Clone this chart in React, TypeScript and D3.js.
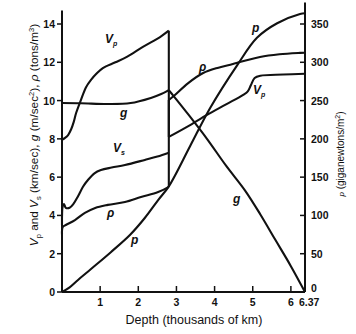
import React from "react";
import * as d3 from "d3";

// depth in thousands of km, values in chart units
const vpMantle: [number, number][] = [
  [0, 7.95], [0.08, 8.05], [0.16, 8.2], [0.24, 8.5], [0.31, 8.9], [0.37, 9.35], [0.5, 10.05],
  [0.63, 10.7], [0.76, 11.08], [0.9, 11.4], [1.07, 11.7], [1.4, 12.0], [1.7, 12.28],
  [2.12, 12.8], [2.57, 13.32], [2.8, 13.65],
];
const vpCore: [number, number][] = [
  [2.8, 8.1], [3.3, 8.65], [3.8, 9.25], [4.3, 9.8], [4.75, 10.3], [4.87, 10.48],
  [4.95, 10.8], [5.05, 11.18], [5.2, 11.3], [5.8, 11.36], [6.37, 11.4],
];
const vsMantle: [number, number][] = [
  [0, 3.5], [0.02, 4.5], [0.05, 4.6], [0.1, 4.4], [0.2, 4.4], [0.3, 4.6], [0.42, 5.0],
  [0.55, 5.5], [0.68, 5.85], [0.85, 6.2], [1.02, 6.37], [1.3, 6.5], [1.65, 6.63],
  [2.17, 6.9], [2.5, 7.08], [2.8, 7.28],
];
const rhoMantle: [number, number][] = [
  [0, 3.0], [0.02, 3.4], [0.1, 3.5], [0.34, 3.76], [0.6, 4.13], [0.87, 4.39], [1.2, 4.55],
  [1.65, 4.7], [2.07, 4.96], [2.52, 5.22], [2.8, 5.49],
];
const rhoCore: [number, number][] = [
  [2.8, 10.03], [2.96, 10.29], [3.3, 10.9], [3.7, 11.44], [4.1, 11.72], [4.48, 11.91],
  [5.19, 12.28], [5.7, 12.42], [6.24, 12.49], [6.37, 12.5],
];
const gMantle: [number, number][] = [
  [0, 9.87], [0.5, 9.86], [1.2, 9.82], [1.8, 9.87], [2.33, 10.14], [2.6, 10.34], [2.8, 10.55],
];
const gCore: [number, number][] = [
  [2.8, 10.55], [2.9, 10.3], [3.3, 9.3], [3.8, 8.0], [4.3, 6.6], [4.8, 5.3], [5.2, 4.05],
  [5.6, 2.7], [6.0, 1.35], [6.37, 0],
];
// pressure in GPa (right axis)
const pressure: [number, number][] = [
  [0, 0], [0.2, 6], [0.42, 15.7], [0.76, 30], [1.28, 52], [1.78, 74.4], [2.17, 96.6],
  [2.52, 120], [2.8, 138], [3.36, 190.7], [3.88, 240], [4.59, 296], [5.11, 332],
  [5.64, 351], [6.24, 363], [6.37, 364],
];

const depthTicks = [1, 2, 3, 4, 5, 6];
const leftTicks = [0, 2, 4, 6, 8, 10, 12, 14];
const rightTicks = [0, 50, 100, 150, 200, 250, 300, 350];
const cmbDepth = 2.8;

export default function App() {
  const x = d3.scaleLinear().domain([0, 6.37]).range([62, 305]);
  const y = d3.scaleLinear().domain([0, 14]).range([292, 24]);
  const yP = d3.scaleLinear().domain([0, 350]).range([292, 24]);

  const line = d3
    .line<[number, number]>()
    .x((d) => x(d[0]))
    .y((d) => y(d[1]))
    .curve(d3.curveCatmullRom.alpha(0.5));
  const lineP = d3
    .line<[number, number]>()
    .x((d) => x(d[0]))
    .y((d) => yP(d[1]))
    .curve(d3.curveCatmullRom.alpha(0.5));

  const stroke = "#111";
  const sw = 2.1;
  const font = "'Liberation Sans', Arial, Helvetica, sans-serif";
  const curveStyle = { fill: "none", stroke, strokeWidth: sw, strokeLinejoin: "round" as const };

  const lbl = { fontFamily: font, fontSize: 12, fontWeight: "bold" as const, fontStyle: "italic" as const, fill: stroke };
  const tickStyle = { fontFamily: font, fontSize: 10.5, fontWeight: "bold" as const, fill: stroke };

  return (
    <svg width={356} height={334} style={{ position: "absolute", left: 0, top: 0, background: "#fff" }}>
      <rect width={356} height={334} fill="#fff" />
      {/* curves */}
      <path d={line(vpMantle) || ""} {...curveStyle} />
      <path d={line(vpCore) || ""} {...curveStyle} />
      <path d={line(vsMantle) || ""} {...curveStyle} />
      <path d={line(rhoMantle) || ""} {...curveStyle} />
      <path d={line(rhoCore) || ""} {...curveStyle} />
      <path d={line(gMantle) || ""} {...curveStyle} />
      <path d={line(gCore) || ""} {...curveStyle} />
      <path d={lineP(pressure) || ""} {...curveStyle} />
      {/* core-mantle boundary jumps */}
      <line x1={x(cmbDepth)} x2={x(cmbDepth)} y1={y(vpMantle[vpMantle.length - 1][1])} y2={y(vpCore[0][1])} stroke={stroke} strokeWidth={sw} />
      <line x1={x(cmbDepth)} x2={x(cmbDepth)} y1={y(rhoMantle[rhoMantle.length - 1][1])} y2={y(rhoCore[0][1])} stroke={stroke} strokeWidth={sw} />

      {/* axes */}
      <line x1={x(0)} x2={x(0)} y1={y(0)} y2={y(14.7)} stroke={stroke} strokeWidth={2} />
      <line x1={x(6.37)} x2={x(6.37)} y1={yP(0)} y2={yP(378)} stroke={stroke} strokeWidth={2} />
      <line x1={x(0)} x2={x(6.37)} y1={y(0)} y2={y(0)} stroke={stroke} strokeWidth={2} />

      {leftTicks.map((t) => (
        <g key={"l" + t}>
          <line x1={x(0) - 5} x2={x(0)} y1={y(t)} y2={y(t)} stroke={stroke} strokeWidth={1.5} />
          <text x={x(0) - 7} y={y(t) + 4} textAnchor="end" {...tickStyle}>{t}</text>
        </g>
      ))}
      {rightTicks.map((t) => (
        <g key={"r" + t}>
          {t > 0 && <line x1={x(6.37) - 5} x2={x(6.37)} y1={yP(t)} y2={yP(t)} stroke={stroke} strokeWidth={1.5} />}
          <text x={x(6.37) + 6} y={yP(t) + (t === 0 ? 0 : 4)} textAnchor="start" {...tickStyle}>{t}</text>
        </g>
      ))}
      {depthTicks.map((t) => (
        <g key={"x" + t}>
          <line x1={x(t)} x2={x(t)} y1={y(0)} y2={y(0) - 6} stroke={stroke} strokeWidth={1.5} />
          <text x={x(t)} y={y(0) + 14} textAnchor="middle" {...tickStyle}>{t}</text>
        </g>
      ))}
      <text x={x(6.37) - 6} y={y(0) + 14} textAnchor="start" {...tickStyle}>6.37</text>

      {/* axis titles */}
      <text x={194} y={324} textAnchor="middle" fontFamily={font} fontSize={12.5} fill={stroke}>
        Depth (thousands of km)
      </text>
      <text transform="translate(38,135) rotate(-90)" textAnchor="middle" fontFamily={font} fontSize={11.8} fill={stroke}>
        <tspan fontStyle="italic">V</tspan>
        <tspan fontSize={7.5} dy={3}>p</tspan>
        <tspan dy={-3}> and </tspan>
        <tspan fontStyle="italic">V</tspan>
        <tspan fontSize={7.5} dy={3}>s</tspan>
        <tspan dy={-3}> (km/sec), </tspan>
        <tspan fontStyle="italic">g</tspan>
        <tspan> (m/sec</tspan>
        <tspan fontSize={7.5} dy={-4}>2</tspan>
        <tspan dy={4}>), </tspan>
        <tspan fontStyle="italic">ρ</tspan>
        <tspan> (tons/m</tspan>
        <tspan fontSize={7.5} dy={-4}>3</tspan>
        <tspan dy={4}>)</tspan>
      </text>
      <text transform="translate(344,154) rotate(-90)" textAnchor="middle" fontFamily={font} fontSize={10} fill={stroke}>
        <tspan fontStyle="italic" fontSize={8}>p</tspan>
        <tspan> (giganewtons/m</tspan>
        <tspan fontSize={7} dy={-4}>2</tspan>
        <tspan dy={4}>)</tspan>
      </text>

      {/* curve labels */}
      <text x={105} y={43} {...lbl}>V<tspan fontSize={7} dy={3}>p</tspan></text>
      <text x={253} y={94} {...lbl}>V<tspan fontSize={7} dy={3}>p</tspan></text>
      <text x={113} y={152} {...lbl}>V<tspan fontSize={7} dy={3}>s</tspan></text>
      <text x={120} y={117} {...lbl}>g</text>
      <text x={233} y={203} {...lbl}>g</text>
      <text x={107} y={217} {...lbl}>ρ</text>
      <text x={199} y={71} {...lbl}>ρ</text>
      <text x={131} y={244} {...lbl}>p</text>
      <text x={252} y={32} {...lbl}>p</text>
    </svg>
  );
}
